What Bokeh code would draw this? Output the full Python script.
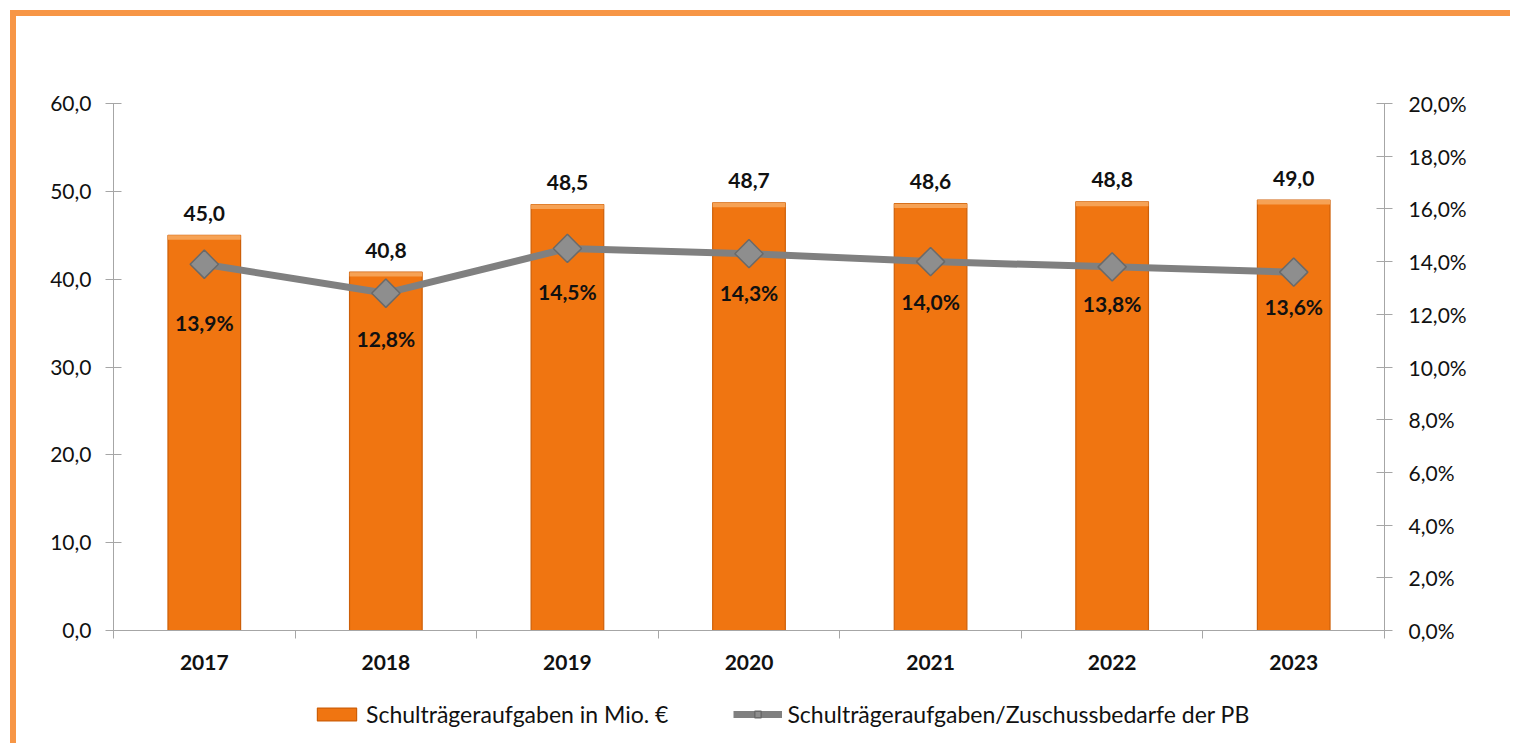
import math
from bokeh.plotting import figure
from bokeh.models import (Range1d, LinearAxis, FixedTicker, Legend, LegendItem,
                          ColumnDataSource)
from bokeh.layouts import column
from bokeh.embed import file_html
from bokeh.resources import INLINE
from bokeh.core.properties import value

# ---------------- data ----------------
years = ["2017", "2018", "2019", "2020", "2021", "2022", "2023"]
amounts = [45.0, 40.8, 48.5, 48.7, 48.6, 48.8, 49.0]          # Mio. €
shares = [13.9, 12.8, 14.5, 14.3, 14.0, 13.8, 13.6]           # %
left_ticks = [0, 10, 20, 30, 40, 50, 60]
right_ticks = [0, 2, 4, 6, 8, 10, 12, 14, 16, 18, 20]
bar_label = "Schulträgeraufgaben in Mio. €"
line_label = "Schulträgeraufgaben/Zuschussbedarfe der PB"

# label placement (screen px below the markers), style only
share_label_dy = [58, 45, 43, 39, 40, 37, 34]
BEVEL = 0.5  # height of the lighter bevel at the top of each bar (y units)

FONT = "Lato"
AX = "#A6A6A6"
TXT = "#111111"
ORANGE = "#F07511"
BORDER = "#F79646"


def de(v, d=1):
    return f"{v:.{d}f}".replace(".", ",")


xs = [i + 0.5 for i in range(len(years))]
src = ColumnDataSource(dict(
    x=xs, year=years, amount=amounts, share=shares,
    cap_bottom=[a - BEVEL for a in amounts],
    amount_lbl=[de(a) for a in amounts],
    share_lbl=[de(s) + "%" for s in shares],
    share_dy=share_label_dy,
))

p = figure(width=1494, height=677, x_range=Range1d(0, len(years)),
           y_range=Range1d(0, 60), x_axis_type=None, y_axis_type=None,
           output_backend="svg", toolbar_location=None,
           min_border_left=97, min_border_right=126, min_border_top=87,
           min_border_bottom=63, outline_line_color=None,
           background_fill_color="white", border_fill_color="white")
p.extra_y_ranges = {"pct": Range1d(0, 20)}

# ---------------- axes ----------------
xaxis = LinearAxis(
    ticker=FixedTicker(ticks=xs, minor_ticks=list(range(len(years) + 1))),
    major_label_overrides={x: y for x, y in zip(xs, years)},
    axis_line_color=AX, major_tick_line_color=None,
    major_tick_in=0, major_tick_out=0,
    minor_tick_line_color=AX, minor_tick_in=0, minor_tick_out=8,
    major_label_standoff=16,
    major_label_text_font=FONT, major_label_text_font_style="bold",
    major_label_text_font_size="21px", major_label_text_color=TXT)
p.add_layout(xaxis, "below")

yaxis = LinearAxis(
    ticker=FixedTicker(ticks=left_ticks),
    major_label_overrides={t: de(t) for t in left_ticks},
    axis_line_color=AX, major_tick_line_color=AX,
    major_tick_in=8, major_tick_out=8, minor_tick_line_color=None,
    major_label_standoff=14,
    major_label_text_font=FONT, major_label_text_font_size="21px",
    major_label_text_color=TXT)
p.add_layout(yaxis, "left")

raxis = LinearAxis(
    y_range_name="pct",
    ticker=FixedTicker(ticks=right_ticks),
    major_label_overrides={t: de(t) + "%" for t in right_ticks},
    axis_line_color=AX, major_tick_line_color=AX,
    major_tick_in=8, major_tick_out=8, minor_tick_line_color=None,
    major_label_standoff=16,
    major_label_text_font=FONT, major_label_text_font_size="21px",
    major_label_text_color=TXT)
p.add_layout(raxis, "right")

# ---------------- glyphs ----------------
bars = p.vbar(x="x", top="amount", width=0.4, source=src,
              fill_color=ORANGE, line_color="#CD5F08", line_width=1.2)
p.vbar(x="x", top="amount", bottom="cap_bottom", width=0.4, source=src,
       fill_color="#F6A255", line_color=None)

p.text(x="x", y="amount", text="amount_lbl", source=src,
       text_align="center", text_baseline="middle", y_offset=-22,
       text_font=value(FONT), text_font_style="bold",
       text_font_size="21px", text_color=TXT)

line_r = p.line(x="x", y="share", source=src, y_range_name="pct",
                line_color="#808080", line_width=7)
mark_r = p.scatter(x="x", y="share", source=src, y_range_name="pct",
                   marker="square", angle=math.pi / 4, size=20,
                   fill_color="#8E8E8E", line_color="#6A6A6A", line_width=1.5)

p.text(x="x", y="share", text="share_lbl", source=src, y_range_name="pct",
       text_align="center", text_baseline="middle", y_offset="share_dy",
       text_font=value(FONT), text_font_style="bold",
       text_font_size="21px", text_color=TXT)

# ---------------- legend (own strip below the chart) ----------------
# same data, hidden renderers in this strip: only the legend entries show
lg = figure(width=1494, height=50, x_range=Range1d(0, 1),
            y_range=Range1d(-20, -10),
            x_axis_type=None, y_axis_type=None, output_backend="svg",
            toolbar_location=None, min_border=0, outline_line_color=None,
            background_fill_color="white", border_fill_color="white")
lg_bar = lg.vbar(x="x", top="amount", width=0.4, source=src,
                 fill_color=ORANGE, line_color="#CD5F08", line_width=1.2,
                 visible=False)
lg_line = lg.line(x="x", y="share", source=src, line_color="#808080",
                  line_width=7, visible=False)
lg_mark = lg.scatter(x="x", y="share", source=src, marker="square",
                     angle=math.pi / 4, size=20, fill_color="#8E8E8E",
                     line_color="#6A6A6A", line_width=1.5, visible=False)

legend = Legend(
    items=[LegendItem(label=bar_label, renderers=[lg_bar]),
           LegendItem(label=line_label, renderers=[lg_line, lg_mark])],
    orientation="horizontal", location=(199, 15), click_policy="none",
    border_line_color=None, background_fill_alpha=0,
    padding=4, margin=0, spacing=65,
    glyph_width=49, glyph_height=16, label_standoff=5,
    label_text_font=FONT, label_text_font_size="23px",
    label_text_color=TXT)
lg.add_layout(legend)

layout = column(p, lg, spacing=0,
                styles={"border-top": f"6px solid {BORDER}",
                        "border-left": f"6px solid {BORDER}",
                        "margin-top": "10px", "margin-left": "10px"})

open("out.html", "w").write(file_html(layout, INLINE))
